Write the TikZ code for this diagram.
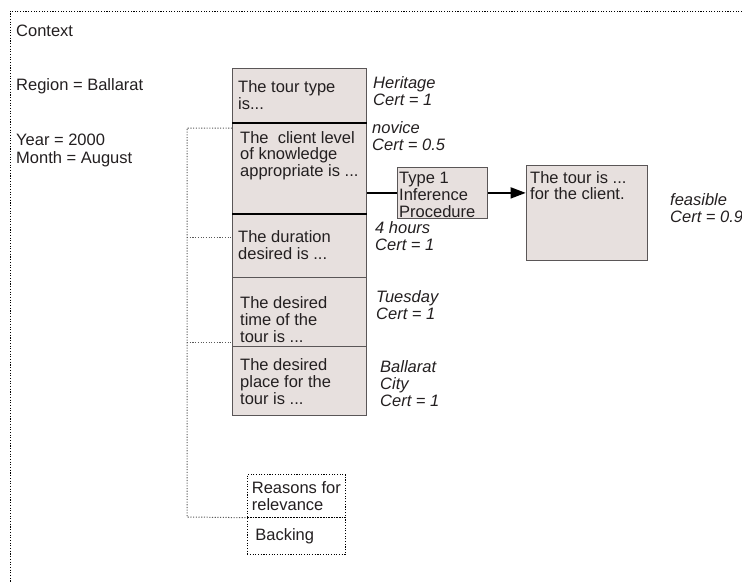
\documentclass[tikz,border=0pt]{standalone}
\usepackage{fontspec}
\setmainfont{Liberation Sans}
\usetikzlibrary{arrows.meta}

\definecolor{boxfill}{HTML}{E7E0DE}
\definecolor{boxline}{HTML}{5A5657}
\definecolor{ink}{HTML}{231F20}

\begin{document}
\begin{tikzpicture}[x=1pt,y=-1pt,
  every node/.style={text=ink, font=\fontsize{16.5}{17}\selectfont},
  slot/.style={draw=boxline, fill=boxfill, line width=1pt, anchor=north west, inner sep=0pt, minimum width=134pt},
  txt/.style={anchor=base west, align=left, inner sep=0pt},
  cert/.style={txt, font=\fontsize{16.5}{17}\selectfont\itshape},
  sep/.style={line width=1.8pt, black},
  dots/.style={line width=1pt, dash pattern=on 1.1pt off 1.6pt},
  note/.style={draw, dots, anchor=north west, align=left, inner ysep=0pt, minimum width=98.3pt}]

 \useasboundingbox (0,0) rectangle (742,582);

 % context frame (text nodes sit on the baseline of their last line)
 \draw[dots] (742,11) -- (10,11) -- (10,582);
 \node[txt] (ctx) at (16,36) {Context};
 \node[txt] (region) at (16,90) {Region = Ballarat};
 \node[txt, font=\fontsize{16.5}{18}\selectfont] (date) at (16,163) {Year = 2000\\Month = August};

 % the column of slots
 \node[slot, minimum height=53.4pt] (tour) at (232,68.3) {};
 \node[slot, minimum height=91.6pt] (client) at (232,121.7) {};
 \node[slot, minimum height=63.4pt] (duration) at (232,213.3) {};
 \node[slot, minimum height=69.3pt] (timeslot) at (232,276.7) {};
 \node[slot, minimum height=69pt] (place) at (232,346) {};
 \draw[sep] (tour.south west) -- (tour.south east);
 \draw[sep] (client.south west) -- (client.south east);

 \node[txt] (tourtxt) at (238,109) {The tour type\\is...};
 \node[txt, font=\fontsize{16.5}{16.5}\selectfont] (clienttxt) at (240,176) {The\ \ client level\\of knowledge\\appropriate is ...};
 \node[txt] (durtxt) at (238,259) {The duration\\desired is ...};
 \node[txt] (timetxt) at (240,342) {The desired\\time of the\\tour is ...};
 \node[txt] (placetxt) at (240,404) {The desired\\place for the\\tour is ...};

 \node[cert] (heritage) at (373,105) {Heritage\\Cert = 1};
 \node[cert] (novice) at (372,150) {novice\\Cert = 0.5};
 \node[cert] (hours) at (375,250) {4 hours\\Cert = 1};
 \node[cert] (tuesday) at (376,319) {Tuesday\\Cert = 1};
 \node[cert] (city) at (380,406) {Ballarat\\City\\Cert = 1};

 % inference and result
 \node[slot, minimum width=89.4pt, minimum height=50.4pt, line width=0.8pt] (infer) at (397.3,167.3) {};
 \node[txt] (infertxt) at (399,217) {Type 1\\Inference\\Procedure};
 \node[slot, minimum width=121pt, minimum height=95pt] (result) at (525.7,165) {};
 \node[txt, font=\fontsize{16.5}{16}\selectfont] (resulttxt) at (530,199) {The tour is ...\\for the client.};
 \node[cert] (feasible) at (670,222) {feasible\\Cert = 0.9};

 \draw[line width=1.5pt] (infer.west -| client.east) -- (infer.west);
 \draw[line width=1.5pt, -{Triangle[length=15pt,width=11pt]}] (infer.east) -- (infer.east -| result.west);

 % reasons and backing
 \node[note, minimum height=42.7pt] (reasons) at (246.7,474) {Reasons for\\relevance};
 \node[note, minimum height=37.3pt, text width=82pt, inner xsep=8pt] (backing) at (246.7,516.7) {Backing};

 \coordinate (railtop) at (187,128);
 \coordinate (railbot) at (187,517);
 \draw[dots, black!65] (railtop -| client.west) -- (railtop) -- (railbot) -- (reasons.south west);
 \draw[dots, black!65] (187,237) -- (duration.west |- 187,237);
 \draw[dots, black!65] (187,342) -- (timeslot.west |- 187,342);

\end{tikzpicture}
\end{document}
